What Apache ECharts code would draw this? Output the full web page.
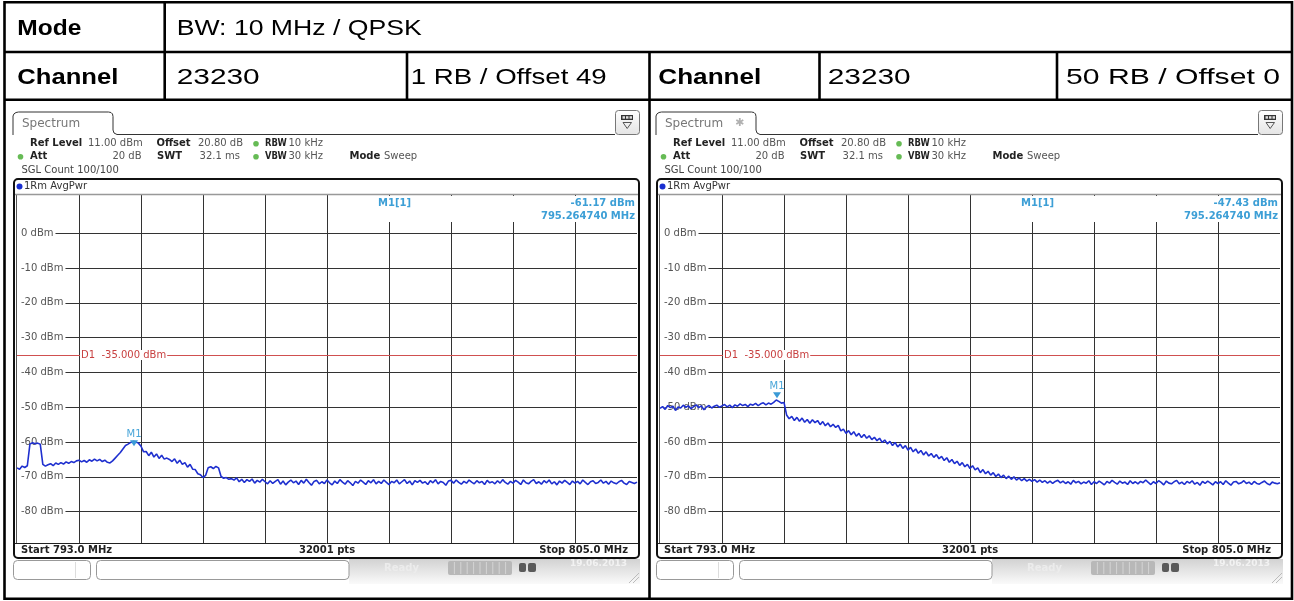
<!DOCTYPE html>
<html><head><meta charset="utf-8">
<script src="https://cdn.jsdelivr.net/npm/echarts@6/dist/echarts.min.js"></script>
<style>html,body{margin:0;padding:0;background:#fff}#c{width:1294px;height:601px}</style>
</head><body><div id="c"></div>
<script>
// ---------- data ----------
const startMHz = 793.0, stopMHz = 805.0, stepMHz = 0.05, sweepPts = 32001;
const freqGrid = [794.2, 795.4, 796.6, 797.8, 799.0, 800.2, 801.4, 802.6, 803.8];
const levelGrid = [0, -10, -20, -30, -40, -50, -60, -70, -80];
const refLevel = 11, bottomLevel = -89;
const d1Level = -35;
const markerFreq = [795.26474, 795.26474];
const markerLevel = [-61.17, -47.43];
const headerRow1 = ['Mode', 'BW: 10 MHz / QPSK'];
const headerRow2 = ['Channel', '23230', '1 RB / Offset 49', 'Channel', '23230', '50 RB / Offset 0'];

// 1 RB / Offset 49 trace (dBm), 0.05 MHz steps from 793.0 to 805.0
const traceLeft = [
-67.4,-67.8,-66.9,-67.3,-66.8,-60.6,-60.2,-60.5,-60.3,-60.6,-66.4,-66.9,
-66.5,-66.2,-66.8,-66.0,-66.4,-65.9,-66.3,-65.7,-66.1,-65.6,-65.9,-65.4,
-65.2,-65.7,-65.3,-65.8,-65.1,-65.5,-64.9,-65.4,-65.0,-65.6,-65.2,-65.8,
-66.0,-65.4,-64.6,-63.8,-63.0,-62.0,-61.0,-60.6,-60.1,-59.8,-60.0,-60.3,
-61.2,-62.8,-62.7,-63.9,-62.9,-64.3,-63.4,-64.7,-63.8,-64.9,-64.6,-65.0,
-65.6,-64.8,-66.1,-65.2,-66.4,-65.9,-67.2,-66.4,-67.8,-67.9,-69.1,-69.4,
-70.2,-69.6,-67.4,-67.1,-67.6,-67.0,-67.4,-69.9,-70.4,-70.2,-70.7,-70.5,
-70.9,-70.3,-71.4,-70.7,-71.6,-70.8,-71.3,-70.6,-71.8,-71.0,-71.5,-70.7,
-71.4,-72.0,-71.1,-71.9,-71.3,-70.8,-72.1,-71.2,-72.3,-71.5,-70.9,-71.7,
-71.2,-72.2,-71.0,-71.8,-70.7,-71.6,-72.4,-71.3,-71.0,-72.0,-71.4,-71.9,
-70.9,-71.7,-72.3,-71.2,-71.9,-70.8,-71.5,-72.1,-71.1,-71.7,-72.5,-71.3,
-71.8,-70.9,-71.5,-72.2,-71.1,-71.7,-70.8,-72.0,-71.3,-71.9,-70.9,-71.6,
-72.2,-71.3,-71.7,-70.9,-72.0,-71.4,-70.8,-71.9,-71.2,-72.3,-71.1,-71.6,
-71.0,-71.8,-71.4,-72.2,-71.1,-71.7,-70.8,-72.0,-71.3,-71.6,-72.4,-71.2,
-71.0,-71.8,-70.9,-71.6,-72.1,-71.3,-71.8,-70.9,-71.5,-72.0,-71.1,-71.7,
-71.3,-72.2,-71.0,-71.7,-71.4,-72.0,-71.1,-71.8,-70.8,-71.6,-72.1,-71.3,
-71.8,-71.0,-71.5,-72.2,-70.9,-71.7,-72.0,-71.3,-70.8,-71.9,-71.4,-72.1,
-71.1,-71.7,-70.9,-72.0,-71.4,-72.3,-71.2,-71.8,-71.0,-71.6,-72.2,-71.2,
-71.8,-71.3,-72.0,-70.9,-71.6,-72.2,-71.4,-71.1,-71.9,-71.6,-70.9,-71.8,
-71.3,-72.1,-71.2,-71.7,-72.0,-71.4,-71.0,-71.8,-72.2,-71.3,-71.6,-71.9,-71.5
];
// 50 RB / Offset 0 trace (dBm)
const traceRight = [
-50.3,-49.8,-50.6,-49.5,-50.1,-49.7,-50.9,-49.9,-50.2,-49.4,-50.0,-49.6,
-50.4,-49.8,-49.3,-50.1,-49.6,-50.7,-49.9,-49.5,-50.2,-49.7,-49.4,-50.0,
-49.6,-49.2,-49.9,-49.4,-50.1,-49.3,-49.7,-49.0,-49.5,-49.2,-49.8,-49.1,
-49.4,-48.9,-49.5,-49.0,-48.7,-49.3,-48.8,-49.1,-48.6,-47.9,-48.3,-48.8,
-48.6,-52.2,-53.3,-52.6,-53.8,-52.9,-54.0,-53.1,-54.3,-53.5,-54.6,-53.6,
-54.4,-53.8,-55.0,-54.1,-55.3,-54.5,-55.6,-54.9,-55.8,-55.2,-56.8,-56.3,
-57.5,-56.7,-57.9,-57.0,-58.3,-57.5,-58.7,-57.8,-58.9,-58.2,-59.3,-58.6,
-59.6,-58.9,-60.1,-59.4,-60.5,-59.8,-61.0,-60.1,-61.4,-60.6,-61.8,-61.0,
-62.3,-61.5,-62.8,-62.0,-63.2,-62.4,-63.7,-62.8,-64.0,-63.3,-64.4,-63.6,
-64.8,-64.1,-65.3,-64.5,-65.8,-65.0,-66.2,-65.5,-66.7,-65.9,-67.1,-66.4,
-67.6,-66.8,-68.0,-67.4,-68.8,-67.9,-69.1,-68.4,-69.5,-68.8,-69.9,-69.2,
-70.2,-69.5,-70.5,-69.8,-70.7,-70.0,-70.9,-70.3,-71.1,-70.5,-71.2,-70.7,
-71.3,-70.8,-71.5,-70.9,-71.6,-71.1,-71.8,-71.2,-71.9,-71.3,-71.0,-71.7,
-71.2,-71.9,-71.4,-72.1,-71.0,-71.7,-71.3,-72.0,-71.5,-71.8,-71.1,-72.2,
-71.4,-71.9,-71.2,-71.7,-72.3,-71.3,-71.8,-71.0,-71.6,-72.1,-71.2,-71.8,
-71.5,-72.2,-71.1,-71.9,-71.4,-72.0,-71.3,-71.7,-70.9,-71.6,-72.2,-71.4,
-71.9,-71.1,-71.6,-72.3,-71.2,-71.8,-72.0,-71.4,-71.0,-72.0,-71.5,-72.2,
-71.3,-71.8,-71.1,-72.1,-71.6,-72.4,-71.3,-71.9,-71.2,-71.7,-72.3,-71.4,
-71.9,-71.4,-72.2,-71.1,-71.8,-72.4,-71.5,-71.3,-72.0,-71.7,-71.1,-71.9,
-71.5,-72.2,-71.3,-71.9,-72.1,-71.6,-71.2,-71.9,-72.3,-71.5,-71.8,-72.0,-71.7
];

// ---------- layout helpers ----------
const els = [];
const SCR = '"DejaVu Sans", Verdana, sans-serif';
function T(text, x, y, o) {
  o = o || {};
  els.push({type: 'text', x: x, y: y, z: o.z || 10, scaleX: o.sx || 1,
    style: {text: text, font: o.font || ('10px ' + SCR), fill: o.fill || '#333',
      textAlign: o.align || 'left', textVerticalAlign: 'middle'}});
}
function L(x1, y1, x2, y2, stroke, w, z) {
  els.push({type: 'line', z: z || 10, shape: {x1: x1, y1: y1, x2: x2, y2: y2}, style: {stroke: stroke, lineWidth: w || 1}});
}
function R(x, y, w, h, o) {
  els.push({type: 'rect', z: o.z || 10, shape: {x: x, y: y, width: w, height: h, r: o.r || 0},
    style: {fill: o.fill || 'none', stroke: o.stroke || null, lineWidth: o.lw || 1}});
}
function PL(pts, stroke, w, z) {
  els.push({type: 'polyline', z: z || 10, shape: {points: pts}, style: {stroke: stroke, lineWidth: w || 1, fill: 'none'}});
}
function C(cx, cy, r, fill) {
  els.push({type: 'circle', z: 10, shape: {cx: cx, cy: cy, r: r}, style: {fill: fill}});
}
const mctx = document.createElement('canvas').getContext('2d');
function fitText(text, x, y, w, bold) {
  const font = (bold ? 'bold ' : '') + '22px "Liberation Sans", Arial, sans-serif';
  mctx.font = font;
  const m = mctx.measureText(text).width;
  T(text, x, y, {font: font, fill: '#000', sx: w / m});
}

// ---------- table ----------
const TB = '#000', TW = 2.6;
R(4.5, 2.2, 1287.5, 596.5, {stroke: TB, lw: TW});
L(4.5, 52, 1292, 52, TB, TW);
L(4.5, 99.7, 1292, 99.7, TB, TW);
L(164.7, 2.2, 164.7, 99.7, TB, TW);
L(407, 52, 407, 99.7, TB, TW);
L(649.5, 52, 649.5, 598.7, TB, TW);
L(819.5, 52, 819.5, 99.7, TB, TW);
L(1057, 52, 1057, 99.7, TB, TW);
fitText(headerRow1[0], 17.3, 28.5, 64, true);
fitText(headerRow1[1], 176.7, 28.5, 245, false);
fitText(headerRow2[0], 17.3, 77.5, 101, true);
fitText(headerRow2[1], 176.7, 77.5, 83, false);
fitText(headerRow2[2], 410.7, 77.5, 196, false);
fitText(headerRow2[3], 658.3, 77.5, 103, true);
fitText(headerRow2[4], 827.7, 77.5, 83, false);
fitText(headerRow2[5], 1066, 77.5, 214, false);

// ---------- analyzer screen chrome ----------
function panel(dx, g) {
  const X = v => v + dx;
  // tab
  PL([[X(13),135],[X(13),116],[X(14),113.8],[X(16),112.5],[X(18.5),112],[X(108.5),112],[X(111),112.5],[X(112.5),114],[X(113),116.5],
      [X(113),130],[X(114),133],[X(117),134.5],[X(615),134.5]], '#333', 1);
  T('Spectrum', X(22), 124, {font: '12px ' + SCR, fill: '#777'});
  if (g === 1) T('\u2731', X(92), 123, {font: '11px ' + SCR, fill: '#b0b0b0'});
  // icon box
  els.push({type: 'rect', z: 10, shape: {x: X(615.5), y: 110.5, width: 24, height: 24, r: 3},
    style: {stroke: '#777', lineWidth: 1, fill: {type: 'linear', x: 0, y: 0, x2: 0, y2: 1,
      colorStops: [{offset: 0, color: '#ffffff'}, {offset: 1, color: '#e4e4e4'}]}}});
  R(X(621), 115, 12, 5, {fill: '#333'});
  R(X(622.5), 116.2, 2.5, 2.5, {fill: '#ddd'});
  R(X(626), 116.2, 2.5, 2.5, {fill: '#ddd'});
  R(X(629.5), 116.2, 2.5, 2.5, {fill: '#ddd'});
  els.push({type: 'polygon', z: 10, shape: {points: [[X(623), 122.5], [X(631.5), 122.5], [X(627.2), 128.5]]},
    style: {fill: 'none', stroke: '#555', lineWidth: 1}});
  // info rows
  const B = 'bold 10px ' + SCR, N = '10px ' + SCR;
  T('Ref Level', X(30), 143.5, {font: B, fill: '#222'});
  T('11.00 dBm', X(88), 143.5, {font: N, fill: '#555'});
  T('Offset', X(156.5), 143.5, {font: B, fill: '#222'});
  T('20.80 dB', X(198), 143.5, {font: N, fill: '#555'});
  C(X(256), 143.8, 2.8, '#66bb55');
  T('RBW', X(265), 143.5, {font: B, fill: '#222', sx: 0.84});
  T('10 kHz', X(288.5), 143.5, {font: N, fill: '#555'});
  C(X(20.5), 156.8, 2.8, '#66bb55');
  T('Att', X(30), 156.5, {font: B, fill: '#222'});
  T('20 dB', X(141.5), 156.5, {font: N, fill: '#555', align: 'right'});
  T('SWT', X(157), 156.5, {font: B, fill: '#222'});
  T('32.1 ms', X(240), 156.5, {font: N, fill: '#555', align: 'right'});
  C(X(256), 156.8, 2.8, '#66bb55');
  T('VBW', X(265), 156.5, {font: B, fill: '#222', sx: 0.84});
  T('30 kHz', X(288.5), 156.5, {font: N, fill: '#555'});
  T('Mode', X(349.5), 156.5, {font: B, fill: '#222'});
  T('Sweep', X(384), 156.5, {font: N, fill: '#555'});
  T('SGL Count 100/100', X(21.5), 170, {font: N, fill: '#444'});
  // diagram frame
  R(X(14), 179, 625, 379, {stroke: '#111', lw: 2, r: 4});
  L(X(16.5), 195, X(16.5), 543, '#555', 1);
  L(X(15), 194.5, X(638), 194.5, '#999', 1.5);
  C(X(19.5), 186.5, 3, '#1a2fd0');
  T('1Rm AvgPwr', X(24), 186.5, {font: N, fill: '#333'});
  L(X(15), 543.5, X(638), 543.5, '#222', 1);
  T('Start ' + startMHz.toFixed(1) + ' MHz', X(21), 550.5, {font: B, fill: '#222'});
  T(sweepPts + ' pts', X(327), 550.5, {font: B, fill: '#222', align: 'center'});
  T('Stop ' + stopMHz.toFixed(1) + ' MHz', X(628), 550.5, {font: B, fill: '#222', align: 'right'});
  // marker info box
  R(X(329), 196, 308, 26, {fill: '#fff', z: 5});
  T('M1[1]', X(378), 203.5, {font: B, fill: '#3d9fd6', z: 6});
  T(markerLevel[g].toFixed(2) + ' dBm', X(635), 203.5, {font: B, fill: '#3d9fd6', align: 'right', z: 6});
  T(markerFreq[g].toFixed(6) + ' MHz', X(635), 216.5, {font: B, fill: '#3d9fd6', align: 'right', z: 6});
  // status bar
  els.push({type: 'rect', z: 4, shape: {x: X(349), y: 559, width: 291, height: 25},
    style: {fill: {type: 'linear', x: 0, y: 0, x2: 0, y2: 1,
      colorStops: [{offset: 0, color: '#d2d2d2'}, {offset: 1, color: '#fafafa'}]}}});
  R(X(13.5), 560.5, 77, 19, {stroke: '#999', fill: '#fff', r: 4});
  L(X(75.5), 562, X(75.5), 578, '#ddd', 1);
  R(X(96.5), 560.5, 252.5, 19, {stroke: '#999', fill: '#fff', r: 4});
  T('Ready', X(384), 568, {font: B, fill: '#ececec'});
  R(X(448), 561, 64, 14, {fill: '#b8b8b8', r: 2});
  for (let k = 1; k < 10; k++) L(X(448 + k * 6.4), 562, X(448 + k * 6.4), 574, '#d4d4d4', 1);
  R(X(519), 563, 7, 9, {fill: '#5a5a5a', r: 2});
  R(X(528), 563, 8, 9, {fill: '#5a5a5a', r: 2});
  T('19.06.2013', X(570), 563.5, {font: 'bold 9px ' + SCR, fill: '#f2f2f2'});
  L(X(629), 583, X(639), 573, '#bbb', 1);
  L(X(633), 583, X(639), 577, '#bbb', 1);
}
panel(0, 0);
panel(643, 1);

// ---------- chart ----------
function pairs(arr) { return arr.map((v, i) => [+(startMHz + i * stepMHz).toFixed(2), v]); }
const traces = [traceLeft, traceRight];
const grids = [{left: 17, top: 195, width: 620, height: 348}, {left: 660, top: 195, width: 620, height: 348}];
const GL = {color: '#333', width: 1};

const option = {
  animation: false,
  grid: grids,
  xAxis: [0, 1].map(g => ({
    type: 'value', gridIndex: g, min: startMHz, max: stopMHz,
    axisLine: {show: false},
    axisTick: {show: false, customValues: freqGrid},
    axisLabel: {show: false, customValues: freqGrid},
    splitLine: {show: true, lineStyle: GL}
  })),
  yAxis: [0, 1].map(g => ({
    type: 'value', gridIndex: g, min: bottomLevel, max: refLevel,
    axisLine: {show: false},
    axisTick: {show: false, customValues: levelGrid},
    axisLabel: {show: true, customValues: levelGrid, inside: true, margin: 0,
      formatter: v => v + ' dBm', color: '#555', fontSize: 10, fontFamily: 'DejaVu Sans',
      backgroundColor: '#fff', padding: [1, 2, 1, 4]},
    splitLine: {show: true, lineStyle: GL}
  })),
  series: [0, 1].map(g => ({
    type: 'line', xAxisIndex: g, yAxisIndex: g, data: pairs(traces[g]),
    symbol: 'none', showSymbol: false, z: 3,
    lineStyle: {color: '#1f30cf', width: 1.6},
    markLine: {silent: true, symbol: 'none', label: {show: false},
      lineStyle: {color: '#d05050', width: 1, type: 'solid'}, data: [{yAxis: d1Level}]},
    markPoint: {silent: true, data: [
      {coord: [markerFreq[g], markerLevel[g]], symbol: 'triangle', symbolRotate: 180, symbolSize: [8, 6],
        symbolOffset: [0, -3], itemStyle: {color: '#3a9ad6'},
        label: {show: true, formatter: 'M1', position: 'top', distance: 1, color: '#4aa6d9', fontSize: 10, fontFamily: 'DejaVu Sans'}},
      {coord: [freqGrid[0], d1Level], symbol: 'circle', symbolSize: 0.1,
        label: {show: true, position: 'right', distance: 1, formatter: 'D1  ' + d1Level.toFixed(3) + ' dBm',
          color: '#c84040', fontSize: 10, fontFamily: 'DejaVu Sans', backgroundColor: '#fff', padding: [0, 1]}}
    ]}
  })),
  graphic: {elements: els}
};
const chart = echarts.init(document.getElementById('c'), null, {renderer: 'canvas'});
chart.setOption(option);
</script>
</body></html>
